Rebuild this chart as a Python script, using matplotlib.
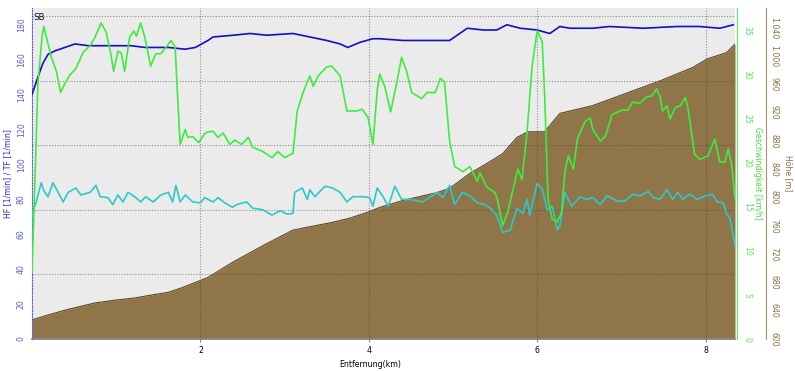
import numpy as np
import matplotlib
matplotlib.use("Agg")
import matplotlib.pyplot as plt
from matplotlib.ticker import FuncFormatter

# height profile (km, m)
dist_h = [0.00, 0.19, 0.43, 0.75, 0.99, 1.22, 1.46, 1.62, 1.77, 1.94, 2.09, 2.39, 2.79, 3.10, 3.27,
          3.57, 3.78, 3.98, 4.13, 4.41, 4.81, 4.96, 5.20, 5.40, 5.59, 5.76, 5.89, 6.09, 6.15, 6.27,
          6.66, 7.07, 7.46, 7.85, 8.02, 8.25, 8.35]
height = [627, 634, 642, 651, 655, 658, 663, 666, 672, 680, 687, 709, 735, 754, 758,
          765, 771, 779, 786, 796, 807, 813, 834, 848, 862, 885, 893, 893, 902, 919,
          930, 948, 965, 984, 996, 1005, 1017]

# heart rate HF [1/min]
dist_hf = [0, 0.07, 0.13, 0.19, 0.27, 0.39, 0.51, 0.67, 0.78, 0.99, 1.18, 1.34, 1.46, 1.62, 1.82,
           1.94, 2.09, 2.15, 2.39, 2.59, 2.79, 3.10, 3.30, 3.50, 3.66, 3.75, 3.90, 4.05, 4.13,
           4.41, 4.61, 4.96, 5.17, 5.36, 5.52, 5.64, 5.80, 6.00, 6.15, 6.27, 6.39, 6.66, 6.86,
           7.26, 7.66, 7.93, 8.17, 8.33]
hf = [140, 150, 158, 163, 165, 167, 169, 168, 168, 168, 168, 167, 167, 167, 166,
      167, 171, 173, 174, 175, 174, 175, 173, 171, 169, 167, 170, 172, 172,
      171, 171, 171, 178, 177, 177, 180, 178, 177, 175, 179, 178, 178, 179,
      178, 179, 179, 178, 180]

# cadence TF [1/min]
dist_tf = [0.00, 0.01, 0.05, 0.11, 0.14, 0.19, 0.25, 0.31, 0.37, 0.43, 0.52, 0.58, 0.69, 0.76,
           0.81, 0.90, 0.96, 1.02, 1.08, 1.14, 1.22, 1.29, 1.35, 1.44, 1.53, 1.62, 1.67, 1.71,
           1.76, 1.82, 1.91, 2.00, 2.05, 2.15, 2.21, 2.29, 2.38, 2.43, 2.55, 2.62, 2.74, 2.85,
           2.95, 3.03, 3.10, 3.12, 3.21, 3.27, 3.30, 3.36, 3.48, 3.57, 3.66, 3.74, 3.81, 3.93,
           4.01, 4.05, 4.10, 4.17, 4.23, 4.31, 4.39, 4.49, 4.64, 4.81, 4.88, 4.96, 5.02, 5.11,
           5.20, 5.29, 5.38, 5.44, 5.52, 5.59, 5.68, 5.76, 5.83, 5.88, 5.91, 6.00, 6.06, 6.12,
           6.18, 6.24, 6.27, 6.33, 6.41, 6.51, 6.59, 6.66, 6.75, 6.83, 6.95, 7.04, 7.14, 7.22,
           7.32, 7.38, 7.46, 7.54, 7.61, 7.67, 7.73, 7.81, 7.90, 7.97, 8.08, 8.14, 8.21, 8.25,
           8.29, 8.35]
tf = [69, 73, 78.5, 89.5, 85, 81.5, 89.5, 84, 78.5, 84, 86.5, 82.5, 84, 88,
      81.5, 81, 77, 82.5, 78.5, 84, 81.5, 78.5, 81.5, 78.5, 82.5, 84, 78.5, 88,
      78.5, 82.5, 78.5, 78, 81, 78.5, 81, 78, 75.5, 77, 78.5, 75, 74, 71,
      73.5, 71.5, 72, 84, 86.5, 80, 85.5, 81.5, 87.5, 86.5, 84, 78.5, 81.5, 81.5,
      81, 76, 86.5, 81.5, 76, 87.5, 80, 80, 78.5, 84, 81, 88, 77, 84,
      82, 78, 77, 75, 71, 61, 62.5, 75, 72, 80, 71, 89, 86, 74,
      76, 62.5, 65, 84, 76, 81.5, 80, 81, 77, 82, 79, 79, 83, 82,
      84.5, 81, 80, 85.5, 80, 84, 80, 83, 80, 81.5, 83, 78.5, 78, 72,
      69, 54]

# speed [km/h]
dist_v = [0.00, 0.04, 0.07, 0.12, 0.14, 0.23, 0.29, 0.34, 0.39, 0.45, 0.52, 0.61, 0.69, 0.75,
          0.82, 0.88, 0.93, 0.97, 1.02, 1.06, 1.10, 1.16, 1.21, 1.24, 1.29, 1.34, 1.41, 1.47,
          1.53, 1.62, 1.65, 1.70, 1.73, 1.76, 1.82, 1.85, 1.91, 1.98, 2.05, 2.08, 2.15, 2.21,
          2.27, 2.35, 2.41, 2.49, 2.57, 2.62, 2.74, 2.85, 2.92, 3.00, 3.10, 3.15, 3.22, 3.30,
          3.34, 3.40, 3.50, 3.56, 3.66, 3.74, 3.86, 3.92, 3.99, 4.05, 4.10, 4.13, 4.19, 4.26,
          4.33, 4.39, 4.45, 4.51, 4.63, 4.69, 4.79, 4.85, 4.90, 4.96, 5.02, 5.12, 5.20, 5.29,
          5.32, 5.40, 5.50, 5.53, 5.59, 5.65, 5.74, 5.77, 5.82, 5.88, 5.94, 6.00, 6.06, 6.09,
          6.13, 6.18, 6.24, 6.29, 6.33, 6.37, 6.43, 6.48, 6.57, 6.63, 6.66, 6.75, 6.81, 6.89,
          7.01, 7.08, 7.13, 7.22, 7.30, 7.36, 7.42, 7.46, 7.49, 7.54, 7.58, 7.64, 7.70, 7.76,
          7.79, 7.87, 7.93, 8.03, 8.11, 8.17, 8.23, 8.27, 8.31, 8.35]
speed = [7.6, 19.6, 29, 34.4, 35.5, 32, 30.4, 28, 29, 30, 30.7, 32.6, 33.3, 34.3,
         35.9, 34.9, 32.7, 30.4, 32.7, 32.5, 30.4, 34.3, 35, 34.4, 35.9, 34.3, 31, 32.4,
         32.4, 33.5, 33.9, 33.2, 27.5, 22.1, 23.8, 22.9, 23, 22.3, 23.3, 23.5, 23.6, 22.9,
         23.4, 22.1, 22.6, 22.1, 22.9, 21.8, 21.3, 20.6, 21.3, 20.6, 21.1, 25.9, 28, 29.9,
         28.7, 29.9, 30.9, 31, 29.9, 25.9, 25.9, 26.1, 25.2, 22.1, 28.2, 30.1, 28.7, 25.8,
         29, 32, 30.4, 28, 27.3, 28, 28, 29.6, 29.2, 22.5, 19.6, 19, 19.6, 17.9,
         18.9, 17.3, 16.6, 15.8, 12.9, 14.4, 18.1, 19.3, 18.1, 23.5, 31, 35, 33.8, 27.5,
         15.8, 13.6, 13.3, 14.4, 19, 20.8, 19.3, 22.8, 24.7, 25.1, 23.8, 22.5, 23, 25.5,
         26, 26, 26.9, 26.8, 27.5, 27.6, 28.4, 27.5, 25.9, 26.5, 25, 26.3, 26.5, 27.4,
         26.3, 21, 20.4, 20.8, 22.7, 20.1, 20.1, 21.6, 19.8, 16]

hf_ticks = list(range(0, 181, 20))
speed_ticks = list(range(0, 36, 5))
height_ticks = list(range(600, 1041, 40))
x_ticks = [2, 4, 6, 8]

FS = 5.6
BLUE = "#1010c4"
GREEN = "#3ded3d"
CYAN = "#2ec8c8"
BROWN = "#8f7548"

fig = plt.figure(figsize=(7.95, 3.71), dpi=100)
ax_h = fig.add_axes([32/795, 32/371, 703/795, 331/371])
ax_hf = ax_h.twinx()
ax_v = ax_h.twinx()

ax_h.set_facecolor("#ebebeb")
ax_h.fill_between(dist_h, height, 600, color=BROWN, lw=0)
ax_h.plot(dist_h, height, color="#5a4728", lw=0.8)
ax_h.set_xlim(0, 8.35)
ax_h.set_ylim(600, 1068)

# grid on top of the profile
for gv in np.linspace(0, 185, 6)[1:]:
    ax_hf.axhline(gv, ls=(0, (1, 1.5)), color="#404040", alpha=0.55, lw=0.8, zorder=1)
for xv in x_ticks:
    ax_hf.axvline(xv, ls=(0, (1, 1.5)), color="#404040", alpha=0.55, lw=0.8, zorder=1)

ax_hf.plot(dist_tf, tf, color=CYAN, lw=1.2, zorder=3)
ax_hf.plot(dist_hf, hf, color=BLUE, lw=1.2, zorder=3)
ax_hf.set_ylim(0, 189.6)
ax_v.plot(dist_v, speed, color=GREEN, lw=1.2, zorder=3)
ax_v.set_ylim(0, 37.6)

# host axis carries the height scale on the far right
ax_h.yaxis.set_ticks_position("right")
ax_h.yaxis.set_label_position("right")
ax_h.spines["right"].set_position(("outward", 22.3))
ax_h.spines["right"].set_color("#a8926a")
ax_h.spines["left"].set_visible(False)
ax_h.spines["top"].set_visible(False)
ax_h.spines["bottom"].set_color("#8a8a8a")
ax_h.spines["bottom"].set_linewidth(1.3)
ax_h.set_yticks(height_ticks)
ax_h.yaxis.set_major_formatter(FuncFormatter(lambda v, p: f"{v:,.0f}".replace(",", ".")))
ax_h.tick_params(axis="y", length=0, pad=2.5, labelsize=FS, labelcolor="#8b7040", labelrotation=270)
ax_h.set_xticks(x_ticks)
ax_h.tick_params(axis="x", length=2.5, width=0.6, color="#666666", pad=2.5, labelsize=FS)
ax_h.set_xlabel("Entfernung(km)", fontsize=FS, va="center")
ax_h.xaxis.set_label_coords(0.481, -0.076)
ax_h.set_ylabel("Höhe [m]", fontsize=FS, color="#8b7040", rotation=270, va="center", ha="center")
ax_h.yaxis.set_label_coords(1.0754, 0.5)

ax_hf.yaxis.set_ticks_position("left")
ax_hf.yaxis.set_label_position("left")
for s in ["right", "top", "bottom"]:
    ax_hf.spines[s].set_visible(False)
ax_hf.spines["left"].set_color("#5a5ad0")
ax_hf.spines["left"].set_linestyle((0, (1, 1.5)))
ax_hf.set_yticks(hf_ticks)
ax_hf.tick_params(axis="y", length=0, pad=4.5, labelsize=FS, labelcolor="#5b5bd6", labelrotation=90)
ax_hf.set_ylabel("HF [1/min] / TF [1/min]", fontsize=FS, color="#2a2acc", va="center", ha="center")
ax_hf.yaxis.set_label_coords(-0.034, 0.5)

for s in ["left", "top", "bottom"]:
    ax_v.spines[s].set_visible(False)
ax_v.spines["right"].set_position(("outward", 1.5))
ax_v.spines["right"].set_color("#55ee55")
ax_v.set_yticks(speed_ticks)
ax_v.tick_params(axis="y", length=0, pad=4, labelsize=FS, labelcolor="#55e855", labelrotation=270)
ax_v.set_ylabel("Geschwindigkeit [km/h]", fontsize=FS, color="#44dd44", rotation=270, va="center", ha="center")
ax_v.yaxis.set_label_coords(1.0327, 0.5)

for a in (ax_h, ax_hf, ax_v):
    for lab in a.get_yticklabels():
        lab.set_va("center")

ax_hf.text(0.002, 0.985, "SB", transform=ax_hf.transAxes, fontsize=6.2, va="top", ha="left", color="#111111")

fig.savefig("out.png", dpi=100)
